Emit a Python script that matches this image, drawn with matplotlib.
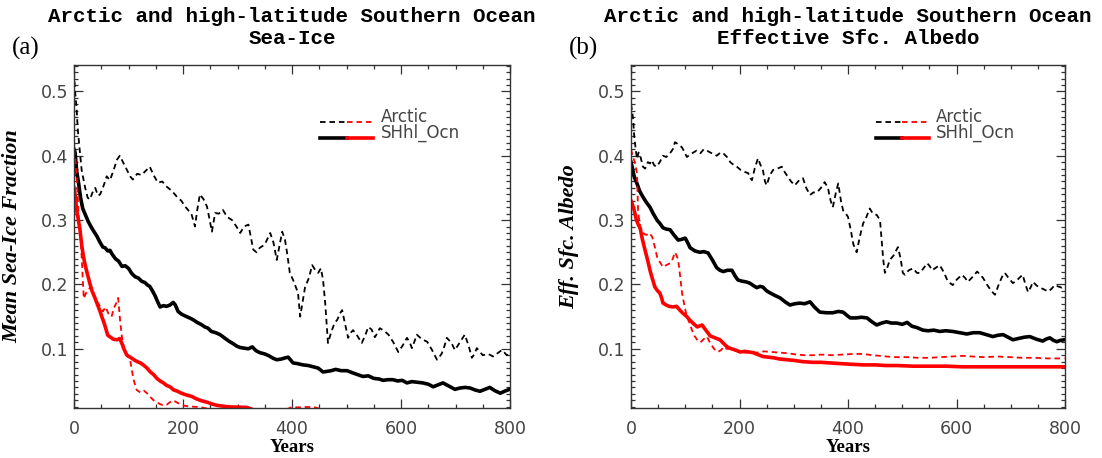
import matplotlib
matplotlib.use("Agg")
import matplotlib.pyplot as plt
from matplotlib.ticker import MultipleLocator, FixedLocator

plt.rcParams['lines.scale_dashes'] = False

# ---------------- data (year, value) ----------------
a_arctic_black = [(0,0.53),(2,0.50),(5,0.47),(7,0.44),(11,0.405),(14,0.378),(20,0.352),(25,0.335),(29,0.332),
 (35,0.345),(39,0.35),(44,0.338),(48,0.34),(55,0.355),(60,0.368),(66,0.362),(72,0.376),(79,0.394),(84,0.40),
 (90,0.39),(97,0.378),(103,0.368),(108,0.363),(116,0.372),(124,0.37),(131,0.376),(139,0.383),(146,0.37),
 (154,0.358),(162,0.36),(170,0.352),(180,0.345),(189,0.336),(197,0.33),(204,0.321),(210,0.315),(216,0.308),
 (222,0.29),(226,0.315),(231,0.34),(238,0.332),(244,0.321),(249,0.30),(253,0.282),(259,0.311),(266,0.31),
 (273,0.316),(281,0.305),(290,0.30),(298,0.29),(305,0.28),(312,0.29),(320,0.293),(329,0.254),(335,0.25),
 (341,0.257),(350,0.262),(360,0.28),(366,0.265),(372,0.238),(377,0.26),(382,0.282),(387,0.27),(391,0.249),
 (396,0.218),(403,0.205),(411,0.187),(415,0.15),(420,0.175),(424,0.196),(431,0.21),(437,0.23),(443,0.222),
 (448,0.218),(453,0.225),(457,0.207),(461,0.17),(464,0.134),(466,0.109),(472,0.126),(478,0.14),(483,0.145),
 (488,0.155),(492,0.160),(497,0.14),(503,0.117),(508,0.125),(512,0.129),(520,0.12),(528,0.109),(534,0.12),
 (540,0.134),(546,0.13),(552,0.118),(557,0.125),(561,0.132),(569,0.128),(577,0.122),(586,0.11),(595,0.095),
 (603,0.105),(611,0.117),(616,0.11),(620,0.101),(625,0.112),(629,0.122),(638,0.115),(648,0.111),(657,0.098),
 (666,0.083),(671,0.088),(675,0.093),(680,0.105),(684,0.117),(692,0.11),(699,0.098),(708,0.11),(717,0.122),
 (724,0.105),(730,0.086),(735,0.092),(739,0.101),(745,0.095),(750,0.090),(760,0.092),(769,0.088),(777,0.093),
 (785,0.098),(790,0.094),(794,0.090),(799,0.092)]

a_shhl_black = [(0,0.41),(2,0.405),(5,0.375),(8,0.36),(12,0.335),(16,0.318),(20,0.31),(26,0.298),(31,0.29),
 (36,0.283),(42,0.275),(48,0.265),(53,0.258),(57,0.257),(62,0.252),(66,0.253),(70,0.247),(76,0.24),(82,0.236),
 (88,0.228),(94,0.229),(100,0.225),(106,0.217),(112,0.212),(118,0.21),(124,0.205),(130,0.203),(135,0.199),
 (139,0.197),(144,0.19),(149,0.182),(154,0.172),(158,0.165),(164,0.167),(170,0.166),(176,0.168),(182,0.172),
 (186,0.168),(191,0.158),(197,0.154),(204,0.151),(212,0.148),(219,0.145),(226,0.141),(233,0.138),(240,0.134),
 (246,0.132),(252,0.127),(260,0.125),(268,0.122),(276,0.117),(284,0.112),(292,0.108),(299,0.104),(305,0.102),
 (312,0.101),(320,0.1),(327,0.103),(334,0.097),(341,0.094),(350,0.092),(358,0.089),(366,0.085),(372,0.083),
 (380,0.084),(388,0.086),(393,0.087),(398,0.082),(402,0.078),(410,0.077),(420,0.075),(430,0.074),(439,0.072),
 (448,0.07),(457,0.064),(465,0.065),(472,0.066),(480,0.068),(490,0.066),(501,0.066),(510,0.063),(520,0.06),
 (530,0.057),(540,0.058),(550,0.054),(560,0.053),(567,0.051),(576,0.052),(585,0.052),(594,0.05),(602,0.051),
 (611,0.047),(620,0.049),(630,0.048),(640,0.047),(650,0.045),(659,0.041),(668,0.044),(677,0.047),(688,0.042),
 (699,0.037),(708,0.039),(718,0.04),(727,0.039),(736,0.036),(745,0.034),(754,0.037),(763,0.04),(772,0.035),
 (782,0.031),(790,0.034),(799,0.037)]

a_shhl_red = [(0,0.35),(2,0.34),(5,0.315),(8,0.30),(11,0.285),(14,0.262),(17,0.245),(20,0.232),(24,0.218),
 (29,0.202),(33,0.19),(38,0.18),(42,0.171),(47,0.16),(51,0.15),(56,0.138),(62,0.121),(67,0.118),(72,0.115),
 (79,0.114),(84,0.116),(88,0.108),(92,0.099),(97,0.09),(103,0.087),(110,0.083),(116,0.08),(122,0.078),
 (127,0.075),(134,0.07),(140,0.064),(146,0.06),(152,0.054),(158,0.05),(164,0.047),(170,0.043),(176,0.041),
 (183,0.036),(190,0.034),(197,0.031),(207,0.028),(216,0.026),(225,0.022),(235,0.019),(244,0.017),(254,0.014),
 (263,0.012),(272,0.011),(281,0.010),(290,0.0095),(300,0.0095),(310,0.009),(317,0.009),(330,0.005),
 (400,0.003),(600,0.002),(800,0.001)]

a_arctic_red = [(0,0.41),(3,0.39),(6,0.35),(9,0.30),(13,0.26),(16,0.21),(18,0.178),(21,0.185),(25,0.19),
 (30,0.196),(35,0.19),(40,0.175),(45,0.17),(50,0.162),(53,0.158),(58,0.165),(63,0.155),(69,0.15),(73,0.163),
 (77,0.17),(81,0.179),(85,0.14),(88,0.118),(92,0.10),(97,0.09),(103,0.083),(106,0.067),(110,0.05),(115,0.036),
 (122,0.032),(128,0.035),(134,0.031),(140,0.025),(146,0.02),(152,0.017),(158,0.014),(164,0.012),(170,0.013),
 (176,0.017),(182,0.02),(190,0.016),(200,0.012),(210,0.0105),(220,0.010),(231,0.0095),(245,0.007),(260,0.006),
 (300,0.005),(350,0.006),(390,0.006),(400,0.0095),(410,0.009),(425,0.0095),(440,0.0095),(450,0.007),
 (470,0.005),(600,0.004),(800,0.004)]

b_arctic_black = [(0,0.48),(2,0.47),(4,0.455),(6,0.43),(8,0.415),(11,0.395),(14,0.405),(17,0.40),(22,0.383),
 (26,0.38),(31,0.39),(35,0.388),(38,0.393),(43,0.385),(47,0.383),(53,0.39),(59,0.40),(65,0.398),(72,0.404),
 (77,0.41),(81,0.421),(87,0.418),(94,0.413),(99,0.405),(103,0.398),(109,0.402),(115,0.405),(121,0.408),
 (128,0.404),(134,0.41),(140,0.408),(146,0.405),(152,0.403),(158,0.40),(165,0.405),(171,0.403),(177,0.398),
 (183,0.39),(189,0.386),(195,0.383),(202,0.378),(209,0.375),(216,0.373),(220,0.365),(223,0.362),(228,0.38),
 (234,0.396),(239,0.385),(243,0.378),(247,0.36),(250,0.354),(256,0.37),(262,0.378),(270,0.38),(278,0.383),
 (283,0.375),(287,0.37),(295,0.36),(302,0.354),(310,0.362),(317,0.365),(323,0.35),(330,0.339),(336,0.343),
 (343,0.343),(350,0.35),(357,0.359),(363,0.35),(368,0.33),(372,0.32),(377,0.34),(382,0.357),(387,0.33),
 (391,0.315),(396,0.31),(400,0.305),(405,0.285),(410,0.262),(416,0.25),(422,0.275),(428,0.295),(434,0.305),
 (440,0.318),(446,0.31),(453,0.308),(459,0.30),(462,0.27),(465,0.238),(468,0.218),(472,0.225),(477,0.238),
 (484,0.245),(492,0.258),(497,0.24),(501,0.218),(505,0.215),(512,0.222),(520,0.225),(527,0.218),(533,0.218),
 (540,0.226),(546,0.233),(551,0.228),(555,0.222),(562,0.226),(569,0.23),(576,0.22),(584,0.205),(593,0.199),
 (601,0.208),(610,0.215),(616,0.21),(621,0.204),(630,0.212),(638,0.22),(644,0.215),(649,0.21),(656,0.20),
 (664,0.19),(671,0.184),(677,0.198),(684,0.212),(689,0.218),(696,0.21),(704,0.202),(712,0.207),(718,0.212),
 (722,0.215),(727,0.20),(732,0.188),(737,0.196),(741,0.204),(748,0.198),(754,0.195),(762,0.192),(769,0.189),
 (775,0.193),(781,0.199),(787,0.197),(794,0.195),(799,0.197)]

b_shhl_black = [(0,0.39),(2,0.383),(6,0.367),(11,0.357),(16,0.345),(22,0.336),(28,0.328),(35,0.32),(41,0.31),
 (48,0.30),(54,0.294),(59,0.288),(65,0.286),(72,0.285),(79,0.277),(87,0.269),(93,0.27),(100,0.272),(105,0.264),
 (109,0.257),(118,0.252),(127,0.25),(134,0.251),(142,0.249),(150,0.238),(158,0.226),(164,0.222),(170,0.22),
 (178,0.222),(186,0.222),(192,0.213),(197,0.207),(205,0.205),(212,0.204),(219,0.202),(226,0.198),(232,0.195),
 (238,0.197),(243,0.196),(250,0.19),(256,0.187),(265,0.183),(275,0.179),(284,0.173),(293,0.168),(302,0.17),
 (311,0.171),(320,0.17),(330,0.173),(338,0.165),(348,0.157),(360,0.156),(372,0.156),(382,0.158),(391,0.157),
 (398,0.152),(404,0.148),(415,0.148),(425,0.149),(435,0.148),(444,0.142),(453,0.137),(462,0.14),(471,0.142),
 (480,0.14),(490,0.14),(500,0.138),(509,0.141),(518,0.135),(527,0.133),(538,0.129),(548,0.128),(558,0.129),
 (569,0.127),(580,0.128),(593,0.127),(606,0.125),(619,0.123),(631,0.125),(643,0.125),(655,0.122),(667,0.119),
 (676,0.121),(686,0.122),(695,0.118),(704,0.114),(714,0.116),(725,0.118),(735,0.119),(747,0.115),(759,0.112),
 (765,0.115),(772,0.117),(779,0.113),(785,0.111),(791,0.113),(799,0.114)]

b_shhl_red = [(0,0.33),(2,0.326),(6,0.315),(10,0.30),(14,0.292),(17,0.287),(21,0.27),(26,0.253),(30,0.24),
 (35,0.222),(39,0.21),(44,0.196),(49,0.19),(53,0.187),(56,0.18),(59,0.171),(65,0.168),(70,0.166),(77,0.165),
 (84,0.166),(90,0.16),(96,0.155),(103,0.15),(108,0.145),(114,0.14),(122,0.134),(131,0.137),(137,0.13),
 (146,0.12),(155,0.117),(164,0.114),(171,0.108),(177,0.103),(185,0.10),(193,0.098),(201,0.095),(210,0.096),
 (218,0.095),(225,0.094),(234,0.091),(243,0.088),(253,0.087),(263,0.086),(275,0.084),(287,0.083),(300,0.082),
 (317,0.08),(335,0.079),(350,0.079),(367,0.078),(385,0.077),(405,0.076),(428,0.075),(450,0.075),(470,0.074),
 (490,0.074),(520,0.073),(550,0.073),(580,0.073),(612,0.072),(640,0.072),(660,0.072),(700,0.072),(740,0.072),
 (770,0.072),(799,0.072)]

b_arctic_red = [(0,0.41),(3,0.40),(7,0.39),(11,0.373),(13,0.315),(15,0.30),(17,0.29),(21,0.282),(25,0.278),
 (29,0.277),(34,0.28),(39,0.274),(44,0.258),(48,0.243),(53,0.235),(59,0.227),(65,0.23),(72,0.233),(77,0.24),
 (81,0.25),(84,0.245),(87,0.238),(91,0.21),(94,0.187),(99,0.165),(103,0.15),(108,0.14),(112,0.13),(117,0.12),
 (122,0.114),(128,0.11),(134,0.115),(140,0.119),(146,0.109),(153,0.10),(160,0.095),(166,0.098),(171,0.103),
 (176,0.10),(182,0.10),(190,0.097),(200,0.096),(212,0.094),(222,0.095),(232,0.094),(245,0.096),(260,0.095),
 (275,0.094),(290,0.093),(305,0.091),(320,0.09),(336,0.09),(350,0.091),(370,0.09),(390,0.091),(410,0.092),
 (428,0.092),(445,0.09),(460,0.089),(471,0.088),(490,0.087),(510,0.087),(530,0.086),(551,0.086),(570,0.087),
 (590,0.088),(612,0.089),(630,0.088),(650,0.087),(675,0.088),(700,0.087),(720,0.086),(745,0.086),(770,0.085),
 (799,0.085)]

title_line1 = "Arctic and high-latitude Southern Ocean"
titles_line2 = ["Sea-Ice", "Effective Sfc. Albedo"]
panel_tags = ["(a)", "(b)"]
ylabels = ["Mean Sea-Ice Fraction", "Eff. Sfc. Albedo"]
xlabel = "Years"
legend_labels = ["Arctic", "SHhl_Ocn"]
xticks = [0, 200, 400, 600, 800]
yticks = [0.1, 0.2, 0.3, 0.4, 0.5]

# ---------------- figure ----------------
W, H = 1102, 458
fig = plt.figure(figsize=(W/100, H/100), dpi=100)
ax_boxes = [(74, 65, 510, 408), (631, 65, 1065, 408)]

DASH = (0, (4.0, 2.8))
TICK_COL = '#444444'
series_sets = [
    (a_arctic_black, a_arctic_red, a_shhl_black, a_shhl_red),
    (b_arctic_black, b_arctic_red, b_shhl_black, b_shhl_red),
]

def xy(pairs):
    return [p[0] for p in pairs], [p[1] for p in pairs]

for i, (x0, y0, x1, y1) in enumerate(ax_boxes):
    ax = fig.add_axes([x0/W, 1 - y1/H, (x1-x0)/W, (y1-y0)/H])
    arc_k, arc_r, sh_k, sh_r = series_sets[i]
    ax.plot(*xy(sh_r), color='red', lw=2.6, solid_joinstyle='round')
    ax.plot(*xy(sh_k), color='black', lw=2.6, solid_joinstyle='round')
    ax.plot(*xy(arc_r), color='red', lw=1.3, linestyle=DASH)
    ax.plot(*xy(arc_k), color='black', lw=1.3, linestyle=DASH)

    ax.set_xlim(0, 800)
    ax.set_ylim(0.008, 0.541)
    ax.xaxis.set_major_locator(FixedLocator(xticks))
    ax.xaxis.set_minor_locator(MultipleLocator(50))
    ax.yaxis.set_major_locator(FixedLocator(yticks))
    ax.yaxis.set_minor_locator(MultipleLocator(0.01))
    ax.set_xticklabels([str(t) for t in xticks])
    ax.set_yticklabels([f"{t:.1f}" for t in yticks])
    ax.tick_params(which='both', direction='in', top=True, right=True, color='#333333', width=0.9)
    ax.tick_params(which='major', length=6.5)
    ax.tick_params(which='minor', length=3.2)
    ax.tick_params(axis='x', which='major', pad=9, labelsize=12.5, labelcolor=TICK_COL)
    ax.tick_params(axis='y', which='major', pad=4, labelsize=12.5, labelcolor=TICK_COL)
    for sp in ax.spines.values():
        sp.set_linewidth(1.0)
        sp.set_color('#333333')

    ax.set_ylabel(ylabels[i], family='Liberation Serif', style='italic', weight='bold', fontsize=16)
    ax.yaxis.set_label_coords(-52/(x1-x0), 0.5)

    cx = (x0 + x1) / 2 / W
    fig.text(cx, 1 - 448/H, xlabel, family='Liberation Serif', weight='bold', fontsize=13.5,
             ha='center', va='center')
    fig.text(cx, 1 - 17/H, title_line1, family='Liberation Mono', weight='bold', fontsize=15,
             ha='center', va='center')
    fig.text(cx, 1 - 38/H, titles_line2[i], family='Liberation Mono', weight='bold', fontsize=15,
             ha='center', va='center')
    fig.text((x0 - 62)/W, 1 - 48/H, panel_tags[i], family='Liberation Serif', fontsize=18,
             ha='left', va='center')

    # legend
    lx0, lxm, lx1, ltx = 0.564, 0.625, 0.686, 0.703
    for j, (yy, ls, lw) in enumerate([(0.834, DASH, 1.3), (0.787, '-', 2.6)]):
        ax.plot([lx0, lxm], [yy, yy], color='black', lw=lw, linestyle=ls, transform=ax.transAxes)
        ax.plot([lxm, lx1], [yy, yy], color='red', lw=lw, linestyle=ls, transform=ax.transAxes)
        ax.text(ltx, yy + 0.014, legend_labels[j], transform=ax.transAxes, fontsize=12,
                color=TICK_COL, ha='left', va='center')

fig.savefig('out.png', dpi=100)
